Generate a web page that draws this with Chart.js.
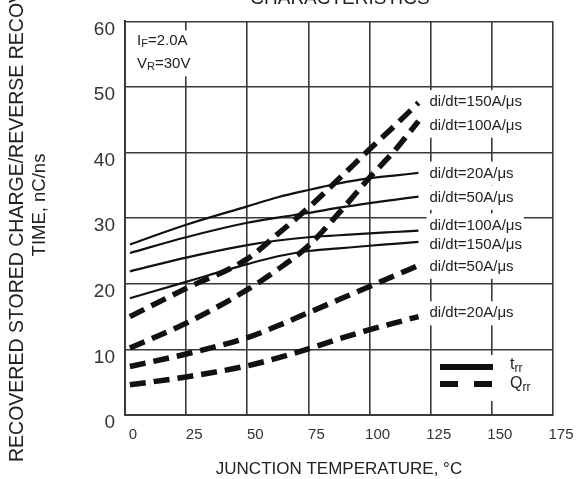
<!DOCTYPE html>
<html>
<head>
<meta charset="utf-8">
<script src="https://cdn.jsdelivr.net/npm/chart.js@4/dist/chart.umd.min.js"></script>
<style>
  html, body { margin: 0; padding: 0; background: #fff; }
  #wrap { width: 577px; height: 479px; }
</style>
</head>
<body>
<div id="wrap"><canvas id="chart"></canvas></div>
<script>
// ── data ────────────────────────────────────────────────────────────────
const TEMPS = [2, 25, 50, 62.5, 75, 87.5, 100, 110, 120];

// trr, solid lines
const TRR_20  = [26.0, 29.0, 31.8, 33.2, 34.3, 35.3, 36.1, 36.5, 36.9];
const TRR_50  = [24.7, 27.1, 29.3, 30.1, 30.8, 31.6, 32.3, 32.8, 33.3];
const TRR_100 = [21.9, 24.0, 25.9, 26.6, 27.1, 27.4, 27.7, 27.9, 28.1];
const TRR_150 = [17.8, 20.3, 23.0, 24.2, 25.0, 25.4, 25.8, 26.1, 26.4];

// Qrr, dashed lines
const QRR_150 = [15.0, 19.3, 23.8, 27.6, 31.6, 36.0, 40.5, 44.0, 47.6];
const QRR_100 = [10.2, 14.0, 19.1, 22.2, 25.8, 30.8, 36.2, 40.2, 44.8];
const QRR_50  = [7.4, 9.3, 11.8, 13.6, 15.6, 17.6, 19.6, 21.2, 22.8];
const QRR_20  = [4.6, 5.8, 7.5, 8.7, 10.1, 11.6, 13.0, 14.0, 15.0];

const X_TICKS = [0, 25, 50, 75, 100, 125, 150, 175];
const Y_TICKS = [0, 10, 20, 30, 40, 50, 60];

const CURVE_LABELS  = ['di/dt=150A/μs', 'di/dt=100A/μs', 'di/dt=20A/μs', 'di/dt=50A/μs',
                       'di/dt=100A/μs', 'di/dt=150A/μs', 'di/dt=50A/μs', 'di/dt=20A/μs'];
const CURVE_LABEL_Y = [47.7, 44.1, 36.8, 33.1, 28.9, 25.9, 22.6, 15.5];
const CURVE_LABEL_T = 124.5;

const FONT = '"Liberation Sans", Arial, sans-serif';
const INK = '#222';
const GRID = '#3a3a3a';

function pts(vals) {
  return TEMPS.map((t, i) => ({ x: t, y: vals[i] }));
}

function solid(vals) {
  return { data: pts(vals), borderColor: '#111', borderWidth: 2.2, pointRadius: 0,
           cubicInterpolationMode: 'monotone', fill: false };
}
function dashed(vals) {
  return { data: pts(vals), borderColor: '#111', borderWidth: 5.5, borderDash: [16, 8],
           borderCapStyle: 'butt', pointRadius: 0, cubicInterpolationMode: 'monotone', fill: false };
}

// text with a subscript, e.g. I + F + "=2.0A"
function drawSub(ctx, main, sub, rest, x, y, size) {
  ctx.font = size + 'px ' + FONT;
  ctx.fillText(main, x, y);
  let cx = x + ctx.measureText(main).width;
  ctx.font = Math.round(size * 0.75) + 'px ' + FONT;
  ctx.fillText(sub, cx, y + size * 0.25);
  cx += ctx.measureText(sub).width;
  ctx.font = size + 'px ' + FONT;
  ctx.fillText(rest, cx, y);
}

// ── annotations, legend and axis titles ─────────────────────────────────
const overlay = {
  id: 'overlay',
  beforeDatasetsDraw(chart) {
    const { ctx, chartArea: a, scales: { x, y } } = chart;
    ctx.save();
    ctx.textBaseline = 'middle';
    ctx.textAlign = 'left';

    // white boxes behind labels (they break the grid like the original)
    ctx.font = '15px ' + FONT;
    const lx = x.getPixelForValue(CURVE_LABEL_T);
    ctx.fillStyle = '#fff';
    CURVE_LABELS.forEach((txt, i) => {
      const py = y.getPixelForValue(CURVE_LABEL_Y[i]);
      ctx.fillRect(lx - 3, py - 12, ctx.measureText(txt).width + 5, 24);
    });
    ctx.fillRect(a.left + 7, a.top + 9, 70, 46);       // test conditions
    ctx.fillRect(a.left + 310, a.bottom - 60, 105, 46); // legend

    ctx.fillStyle = INK;
    CURVE_LABELS.forEach((txt, i) => {
      ctx.font = '15px ' + FONT;
      ctx.fillText(txt, lx, y.getPixelForValue(CURVE_LABEL_Y[i]));
    });

    drawSub(ctx, 'I', 'F', '=2.0A', a.left + 12, a.top + 19, 15);
    drawSub(ctx, 'V', 'R', '=30V', a.left + 12, a.top + 42, 15);

    // legend
    ctx.strokeStyle = '#111';
    ctx.lineWidth = 6;
    ctx.beginPath();
    ctx.moveTo(a.left + 315, a.bottom - 48);
    ctx.lineTo(a.left + 368, a.bottom - 48);
    ctx.stroke();
    ctx.setLineDash([18, 16]);
    ctx.beginPath();
    ctx.moveTo(a.left + 315, a.bottom - 31);
    ctx.lineTo(a.left + 368, a.bottom - 31);
    ctx.stroke();
    ctx.setLineDash([]);
    drawSub(ctx, 't', 'rr', '', a.left + 385, a.bottom - 50, 16);
    drawSub(ctx, 'Q', 'rr', '', a.left + 385, a.bottom - 31, 16);
    ctx.restore();
  },
  afterDraw(chart) {
    const { ctx } = chart;
    ctx.save();
    ctx.fillStyle = INK;
    ctx.textAlign = 'center';
    ctx.textBaseline = 'alphabetic';
    ctx.font = '19px ' + FONT;
    ctx.fillText('CHARACTERISTICS', 340, 4);

    ctx.textBaseline = 'middle';
    ctx.font = '17px ' + FONT;
    ctx.fillText('JUNCTION TEMPERATURE, °C', 339, 469);

    ctx.translate(18, 462);
    ctx.rotate(-Math.PI / 2);
    ctx.textAlign = 'left';
    ctx.font = '19.5px ' + FONT;
    ctx.fillText('RECOVERED STORED CHARGE/REVERSE RECOVERY', 0, 0);
    ctx.restore();

    ctx.save();
    ctx.fillStyle = INK;
    ctx.translate(40, 205);
    ctx.rotate(-Math.PI / 2);
    ctx.textAlign = 'center';
    ctx.textBaseline = 'middle';
    ctx.font = '18.5px ' + FONT;
    ctx.fillText('TIME, nC/ns', 0, 0);
    ctx.restore();
  }
};

new Chart(document.getElementById('chart'), {
  type: 'line',
  data: {
    datasets: [
      solid(TRR_20), solid(TRR_50), solid(TRR_100), solid(TRR_150),
      dashed(QRR_150), dashed(QRR_100), dashed(QRR_50), dashed(QRR_20),
    ],
  },
  options: {
    responsive: true,
    maintainAspectRatio: false,
    animation: false,
    devicePixelRatio: 1,
    layout: { padding: { top: 16, right: 24, left: 0, bottom: 0 } },
    plugins: { legend: { display: false }, tooltip: { enabled: false } },
    scales: {
      x: {
        type: 'linear',
        min: 0, max: 175,
        afterBuildTicks: s => { s.ticks = X_TICKS.map(v => ({ value: v })); },
        afterFit: s => { s.height = 64; },
        ticks: { color: '#333', font: { family: FONT, size: 15 }, padding: 11, labelOffset: 8 },
        grid: { color: GRID, lineWidth: 1.6, drawTicks: false },
        border: { color: GRID, width: 2 },
      },
      y: {
        min: 0, max: 60,
        afterBuildTicks: s => { s.ticks = Y_TICKS.map(v => ({ value: v })); },
        afterFit: s => { s.width = 125; },
        ticks: { color: '#333', font: { family: FONT, size: 19 }, padding: 10, labelOffset: 8 },
        grid: { color: GRID, lineWidth: 1.6, drawTicks: false },
        border: { color: GRID, width: 2 },
      },
    },
  },
  plugins: [overlay],
});
</script>
</body>
</html>
